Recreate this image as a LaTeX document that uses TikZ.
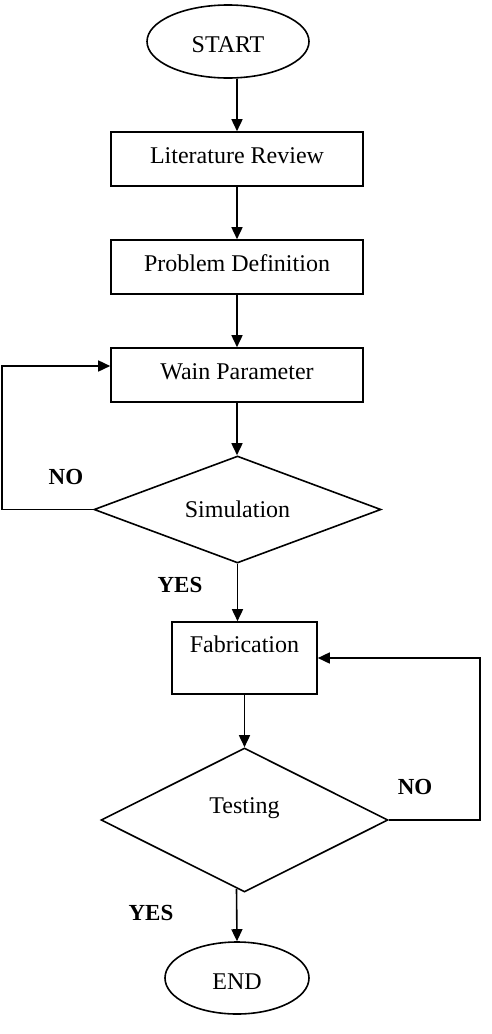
\documentclass[tikz,border=0pt]{standalone}
\usepackage{fontspec}
\setmainfont{Liberation Serif}
\usepackage{tikz}
\usetikzlibrary{positioning,arrows.meta,shapes.geometric}

\begin{document}
\begin{tikzpicture}[x=0.5pt,y=-0.5pt,line width=0.8pt,
 box/.style={draw,rectangle,align=center,minimum width=126pt,minimum height=27pt,inner sep=2pt,text height=8pt,text depth=4pt},
 term/.style={draw,ellipse,inner sep=0pt,text height=11pt,text depth=0pt},
 decide/.style={draw,diamond,inner sep=0pt,minimum width=143.5pt},
 lbl/.style={font=\fontsize{11.5}{13}\selectfont\bfseries},
 arr/.style={-{Triangle[length=6pt,width=5.5pt]}},
 font=\fontsize{12}{14}\selectfont]
\useasboundingbox (0,0) rectangle (492,1034);
\node[term,minimum width=81pt,minimum height=36.5pt] (start) at (228,41.5) {START};
\node[box] (lit) at (237,159) {Literature Review};
\node[box] (prob) at (237,267) {Problem Definition};
\node[box] (wain) at (237,375) {Wain Parameter};
\node[decide,aspect=2.68,minimum height=53.5pt] (sim) at (237.5,509.5) {Simulation};
\node[box,minimum width=72.5pt,minimum height=36pt,text depth=14pt] (fab) at (244.5,658) {Fabrication};
\node[decide,aspect=2,minimum height=72pt,text height=8pt,text depth=15pt] (test) at (244.5,820) {Testing};
\node[term,minimum width=72pt,minimum height=36pt] (stop) at (237,978) {END};
\node[lbl] (no1) at (66,477) {NO};
\node[lbl] (yes1) at (180,585) {YES};
\node[lbl] (no2) at (415,787) {NO};
\node[lbl] (yes2) at (151,913) {YES};
\draw[arr] (lit.north |- start.south) -- (lit.north);
\draw[arr] (lit) -- (prob);
\draw[arr] (prob) -- (wain);
\draw[arr] (wain.south) -- (wain.south |- sim.north);
\draw[arr] (sim.south) -- (sim.south |- fab.north);
\draw[arr] (fab) -- (test);
\draw[arr] ([xshift=-4pt,yshift=2pt]test.south) -- (stop.north);
\draw[arr] (sim.west) -- ++(-91,0) |- ([yshift=4.5pt]wain.west);
\draw[arr] (test.east) -- ++(91,0) |- (fab.east);
\end{tikzpicture}
\end{document}
